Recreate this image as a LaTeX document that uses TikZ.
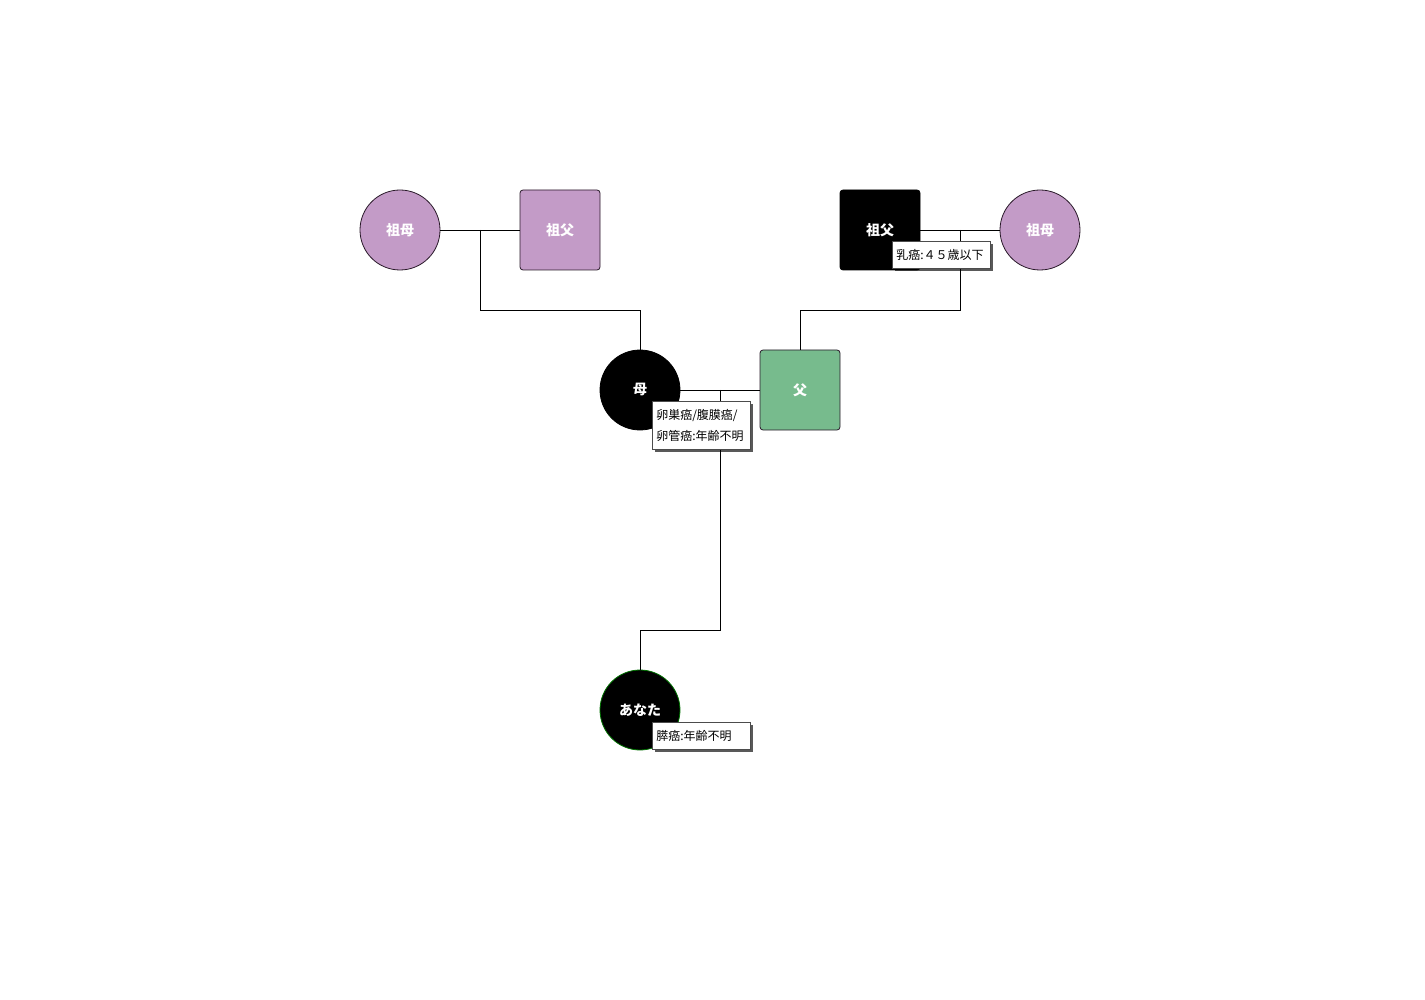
\documentclass[tikz,border=0pt]{standalone}
\usepackage{fontspec}
\newfontfamily\cjk{Noto Sans CJK JP}
\usetikzlibrary{shadows}
\definecolor{gpurple}{HTML}{C39BC7}
\definecolor{fgreen}{HTML}{77BB8D}
\definecolor{edgedark}{HTML}{2A1A2A}
\begin{document}
\begin{tikzpicture}[x=1pt,y=-1pt,
  person/.style={draw=edgedark, line width=0.8pt, text=white, font=\cjk\bfseries\fontsize{14}{16}\selectfont, inner sep=0pt},
  fem/.style={person, circle, minimum size=80pt},
  male/.style={person, rectangle, rounded corners=3pt, minimum size=80pt},
  note/.style={draw=black!70, line width=0.5pt, fill=white, font=\cjk\fontsize{12}{21}\selectfont, align=left,
    text width=90pt, inner xsep=4pt, inner ysep=3pt, anchor=north west,
    drop shadow={shadow xshift=3pt, shadow yshift=-3pt, fill=black, opacity=0.65}},
  link/.style={draw=black, line width=0.9pt}]
\useasboundingbox (0,0) rectangle (1425,1000);
\fill[white] (0,0) rectangle (1425,1000);

% persons
\node[fem, fill=gpurple] (gm1) at (400,230) {祖母};
\node[male, fill=gpurple] (gf1) at (560,230) {祖父};
\node[male, fill=black, draw=black] (gf2) at (880,230) {祖父};
\node[fem, fill=gpurple] (gm2) at (1040,230) {祖母};
\node[fem, fill=black, draw=black] (mo) at (640,390) {母};
\node[male, fill=fgreen] (fa) at (800,390) {父};
\node[fem, fill=black, draw=green!45!black] (me) at (640,710) {あなた};

% junction points
\coordinate (m1) at (480,230);
\coordinate (m2) at (960,230);
\coordinate (m3) at (720,390);

% connectors
\draw[link] (gm1.east) -- (gf1.west);
\draw[link] (m1) -- ++(0,80) -| (mo.north);
\draw[link] (gf2.east) -- (gm2.west);
\draw[link] (m2) -- ++(0,80) -| (fa.north);
\draw[link] (mo.east) -- (fa.west);
\draw[link] (m3) -- ++(0,240) -| (me.north);

% notes
\node[note, minimum height=27pt] (n1) at (892,241) {乳癌:４５歳以下};
\node[note, minimum height=48pt] (n2) at (652,401) {卵巣癌/腹膜癌/\\卵管癌:年齢不明};
\node[note, minimum height=27pt] (n3) at (652,722) {膵癌:年齢不明};
\end{tikzpicture}
\end{document}
